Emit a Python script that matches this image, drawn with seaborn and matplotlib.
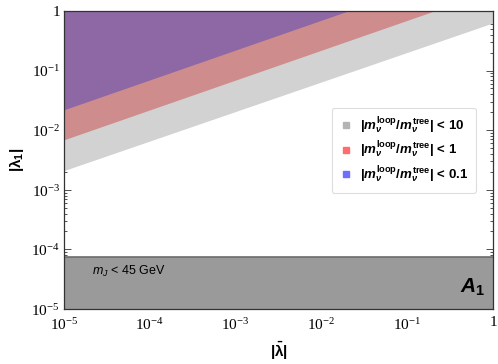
import numpy as np
import matplotlib
matplotlib.use('Agg')
import matplotlib.pyplot as plt
from matplotlib.lines import Line2D
from matplotlib.ticker import FixedLocator, FixedFormatter, LogLocator, NullFormatter
import seaborn as sns

# band edges (straight lines in log-log space)
lam_bar = [1e-5, 1.0]
lam1_top = [1.0, 1.0]
lower_10 = [2.1e-3, 0.63]      # |m_loop/m_tree| < 10
lower_1 = [6.9e-3, 2.2]        # |m_loop/m_tree| < 1
lower_01 = [2.2e-2, 7.0]       # |m_loop/m_tree| < 0.1
mj_bottom = [1e-5, 1e-5]
mj_limit = [7.4e-5, 7.4e-5]    # m_J < 45 GeV

tick_vals = [1e-5, 1e-4, 1e-3, 1e-2, 1e-1, 1.0]
tick_labels = ['$10^{-5}$', '$10^{-4}$', '$10^{-3}$', '$10^{-2}$', '$10^{-1}$', '1']
legend_labels = [r'$\mathbf{|}m_\nu^{\mathbf{loop}}\mathbf{/}m_\nu^{\mathbf{tree}}\mathbf{|}$ < 10',
                 r'$\mathbf{|}m_\nu^{\mathbf{loop}}\mathbf{/}m_\nu^{\mathbf{tree}}\mathbf{|}$ < 1',
                 r'$\mathbf{|}m_\nu^{\mathbf{loop}}\mathbf{/}m_\nu^{\mathbf{tree}}\mathbf{|}$ < 0.1']
legend_colors = ['#b4b4b4', '#ff6e6e', '#6e6eff']

sns.set_style('ticks')
plt.rcParams['font.family'] = ['Liberation Sans', 'DejaVu Sans']
plt.rcParams['text.color'] = 'black'
plt.rcParams['axes.labelcolor'] = 'black'
plt.rcParams['xtick.labelcolor'] = 'black'
plt.rcParams['ytick.labelcolor'] = 'black'
plt.rcParams['mathtext.fontset'] = 'custom'
plt.rcParams['mathtext.rm'] = 'Liberation Serif'
plt.rcParams['mathtext.it'] = 'Liberation Sans:italic:bold'
plt.rcParams['mathtext.bf'] = 'Liberation Sans:bold'
plt.rcParams['mathtext.sf'] = 'Liberation Sans:italic'

fig = plt.figure(figsize=(4.98, 3.64), dpi=100)
ax = fig.add_axes([0.1285, 0.151, 0.8615, 0.819])

ax.fill_between(lam_bar, lower_10, lam1_top, color='#d2d2d2', lw=0)
ax.fill_between(lam_bar, lower_1, lam1_top, color='#ce8c8c', lw=0)
ax.fill_between(lam_bar, lower_01, lam1_top, color='#8e68a5', lw=0)
ax.fill_between(lam_bar, mj_bottom, mj_limit, color='#9a9a9a', lw=0)
sns.lineplot(x=lam_bar, y=mj_limit, color='#6c6c6c', lw=1.2, ax=ax)

ax.set_xscale('log')
ax.set_yscale('log')
ax.set_xlim(1e-5, 1)
ax.set_ylim(1e-5, 1)

for axis in (ax.xaxis, ax.yaxis):
    axis.set_major_locator(FixedLocator(tick_vals))
    axis.set_major_formatter(FixedFormatter(tick_labels))
    axis.set_minor_locator(LogLocator(base=10, subs=np.arange(2, 10), numticks=20))
    axis.set_minor_formatter(NullFormatter())

ax.tick_params(which='both', direction='in', top=True, right=True, color='#333333', width=0.6)
ax.tick_params(which='major', length=5, labelsize=11)
ax.tick_params(which='minor', length=2.5)
ax.tick_params(axis='x', which='major', pad=5)
ax.tick_params(axis='y', which='major', pad=3)
for lab in ax.get_xticklabels() + ax.get_yticklabels():
    lab.set_fontfamily('Liberation Serif')
for sp in ax.spines.values():
    sp.set_color('#333333')
    sp.set_linewidth(0.9)

ax.set_xlabel(r'$\mathbf{|\bar{\lambda}|}$', fontsize=11, labelpad=5)
ax.set_ylabel(r'$\mathbf{|\lambda_1|}$', fontsize=11, labelpad=4)

ax.text(2.1e-5, 4.2e-5, r'$\mathsf{m_J}$ < 45 GeV', fontsize=9, va='center', ha='left')
ax.text(0.8, 2.3e-5, r'$A_\mathbf{1}$', fontsize=15, va='center', ha='right')

handles = [Line2D([], [], marker='s', ls='none', markersize=5, color=c) for c in legend_colors]
leg = ax.legend(handles, legend_labels, loc='upper right', bbox_to_anchor=(0.975, 0.697),
                prop={'family': 'Liberation Sans', 'weight': 'bold', 'size': 9.5},
                frameon=True, fancybox=True, framealpha=1, edgecolor='#dddddd',
                handletextpad=0.5, labelspacing=0.3, borderpad=0.6, handlelength=1.0)
leg.get_frame().set_linewidth(0.8)

fig.savefig('out.png', dpi=100)
